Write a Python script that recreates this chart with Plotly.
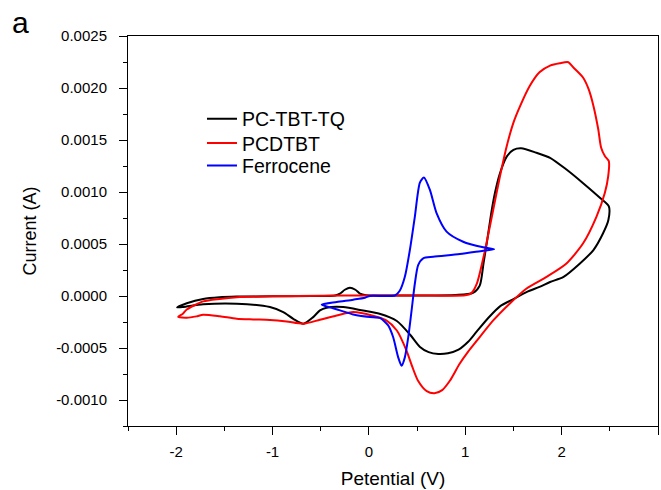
import plotly.graph_objects as go

# ---------------- data (Potential in V, Current in A) ----------------
tbt_v = [-1.99, -1.89, -1.72, -1.55, -1.37, -1.0, -0.6, -0.35, -0.30, -0.25, -0.197, -0.14, -0.093, -0.03,
         0.1, 0.5, 0.9, 1.08, 1.15, 1.19, 1.23, 1.27, 1.31, 1.36, 1.43, 1.50, 1.58, 1.74, 1.88, 2.05, 2.22,
         2.40, 2.49,
         2.485, 2.43, 2.33, 2.19, 2.02, 1.88, 1.77, 1.64, 1.50, 1.36, 1.25, 1.12, 1.03, 0.93, 0.82, 0.72,
         0.62, 0.53, 0.43, 0.29, 0.11, -0.06, -0.267, -0.439, -0.508, -0.578, -0.68, -0.785, -0.889, -1.027,
         -1.372, -1.72, -1.926, -1.99]
tbt_i = [-0.000110, -0.000070, -0.000028, -0.000012, -0.000006, -0.000003, 0.0, 0.000005, 0.000023, 0.000060,
         0.000080, 0.000060, 0.000023, 0.000008,
         0.000005, 0.000005, 0.000010, 0.000030, 0.000100, 0.000320, 0.000550, 0.000800, 0.001000, 0.001180,
         0.001340, 0.001405, 0.001420, 0.001377, 0.001329, 0.001216, 0.001087, 0.000942, 0.000861,
         0.000730, 0.000603, 0.000442, 0.000313, 0.000184, 0.000135, 0.000087, 0.000040, -0.000030, -0.000100,
         -0.000200, -0.000340, -0.000440, -0.000515, -0.000550, -0.000557, -0.000540, -0.000490, -0.000375,
         -0.000240, -0.000170, -0.000140, -0.000106, -0.000112, -0.000138, -0.000203, -0.000267, -0.000219,
         -0.000155, -0.000106, -0.000074, -0.000080, -0.000106, -0.000110]

pcd_v = [-1.98, -1.93, -1.89, -1.72, -1.55, -1.37, -1.0, -0.5, 0.0, 0.5, 1.0, 1.06, 1.12, 1.19, 1.22, 1.29,
         1.36, 1.43, 1.50, 1.57, 1.67, 1.77, 1.88, 1.98, 2.07, 2.12, 2.22, 2.28, 2.33, 2.38, 2.41, 2.45, 2.49,
         2.483, 2.448, 2.362, 2.223, 2.05, 1.843, 1.636, 1.46, 1.29, 1.12, 1.03, 0.94, 0.84, 0.76, 0.68,
         0.60, 0.51, 0.45, 0.39, 0.29, 0.18, 0.04, -0.163, -0.335, -0.508, -0.68, -0.854, -1.027, -1.2,
         -1.372, -1.546, -1.72, -1.79, -1.89, -1.98]
pcd_i = [-0.000200, -0.000170, -0.000130, -0.000052, -0.000028, -0.000012, -0.000002, 0.000003, 0.000005,
         0.000006, 0.000007, 0.000025, 0.000120, 0.000377, 0.000507, 0.000829, 0.001151, 0.001441, 0.001667,
         0.001828, 0.002021, 0.002151, 0.002215, 0.002238, 0.002248, 0.002199, 0.002103, 0.001989, 0.001828,
         0.001603, 0.001426, 0.001344, 0.001296,
         0.001151, 0.000990, 0.000764, 0.000507, 0.000313, 0.000184, 0.000072, -0.000074, -0.000235, -0.000430,
         -0.000535, -0.000654, -0.000815, -0.000905, -0.000935, -0.000915, -0.000815, -0.000680, -0.000525,
         -0.000332, -0.000235, -0.000190, -0.000155, -0.000187, -0.000228, -0.000267, -0.000245, -0.000230,
         -0.000225, -0.000218, -0.000195, -0.000180, -0.000196, -0.000209, -0.000200]

fc_v = [-0.49, -0.335, -0.163, -0.04, 0.01, 0.27, 0.32, 0.373, 0.425, 0.477, 0.529, 0.571, 0.633, 0.702,
        0.806, 0.978, 1.186, 1.30,
        1.186, 0.944, 0.667, 0.563, 0.511, 0.477, 0.443, 0.408, 0.373, 0.339, 0.304, 0.252, 0.20, 0.114,
        0.045, -0.163, -0.30, -0.44, -0.49]
fc_i = [-0.000083, -0.000058, -0.000035, -0.000016, 0.0, 0.000005, 0.000050, 0.000184, 0.000442, 0.000764,
        0.001090, 0.001140, 0.001020, 0.000797, 0.000619, 0.000522, 0.000468, 0.000449,
        0.000435, 0.000403, 0.000377, 0.000362, 0.000297, 0.000120, -0.000138, -0.000397, -0.000590,
        -0.000670, -0.000590, -0.000397, -0.000283, -0.000210, -0.000205, -0.000177, -0.000138, -0.000100,
        -0.000083]

x_ticks = [-2, -1, 0, 1, 2, 3]
x_ticktext = ["-2", "-1", "0", "1", "2", "3"]
x_minor = [-2.5, -1.5, -0.5, 0.5, 1.5, 2.5]
y_ticks = [-0.001, -0.0005, 0.0, 0.0005, 0.001, 0.0015, 0.002, 0.0025]
y_ticktext = ["-0.0010", "-0.0005", "0.0000", "0.0005", "0.0010", "0.0015", "0.0020", "0.0025"]
y_minor = [-0.00125, -0.00075, -0.00025, 0.00025, 0.00075, 0.00125, 0.00175, 0.00225]

series = [
    ("PC-TBT-TQ", tbt_v, tbt_i, "#000000", "legend"),
    ("PCDTBT", pcd_v, pcd_i, "#ff0000", "legend2"),
    ("Ferrocene", fc_v, fc_i, "#0000ff", "legend3"),
]

FONT = "Liberation Sans, Arial, sans-serif"

fig = go.Figure()
for name, xs, ys, col, lg in series:
    fig.add_trace(go.Scatter(x=xs, y=ys, mode="lines", name=name, legend=lg,
                             line=dict(color=col, width=2, shape="spline", smoothing=0.7)))

axis_common = dict(showline=True, linecolor="#000000", linewidth=1, mirror=True,
                   ticks="outside", ticklen=8, tickwidth=1, tickcolor="#000000",
                   showgrid=False, zeroline=False, tickmode="array",
                   tickfont=dict(family=FONT, size=15, color="#000000"))

legend_common = dict(x=0.1396, xanchor="left", yanchor="middle",
                     bgcolor="rgba(0,0,0,0)", font=dict(family=FONT, size=19.5))

fig.update_layout(
    width=661, height=490,
    margin=dict(l=128, r=3, t=36, b=64),
    paper_bgcolor="white", plot_bgcolor="white",
    font=dict(family=FONT, color="#000000"),
    showlegend=True,
    legend=dict(y=0.787, **legend_common),
    legend2=dict(y=0.725, **legend_common),
    legend3=dict(y=0.667, **legend_common),
    xaxis=dict(range=[-2.5, 3], tickvals=x_ticks, ticktext=x_ticktext,
               minor=dict(tickvals=x_minor, ticks="outside", ticklen=4, tickcolor="#000000"),
               title=dict(text="Petential (V)", font=dict(family=FONT, size=19), standoff=12),
               ticklabelstandoff=4, **axis_common),
    yaxis=dict(range=[-0.00125, 0.0025], tickvals=y_ticks, ticktext=y_ticktext,
               minor=dict(tickvals=y_minor, ticks="outside", ticklen=4, tickcolor="#000000"),
               title=dict(text="Current (A)", font=dict(family=FONT, size=18), standoff=14),
               ticklabelstandoff=9, **axis_common),
    annotations=[dict(text="a", xref="paper", yref="paper", x=-0.222, y=1.082,
                      xanchor="left", yanchor="top", showarrow=False,
                      font=dict(family=FONT, size=30, color="#000000"))],
)

fig.write_html("out.html")
